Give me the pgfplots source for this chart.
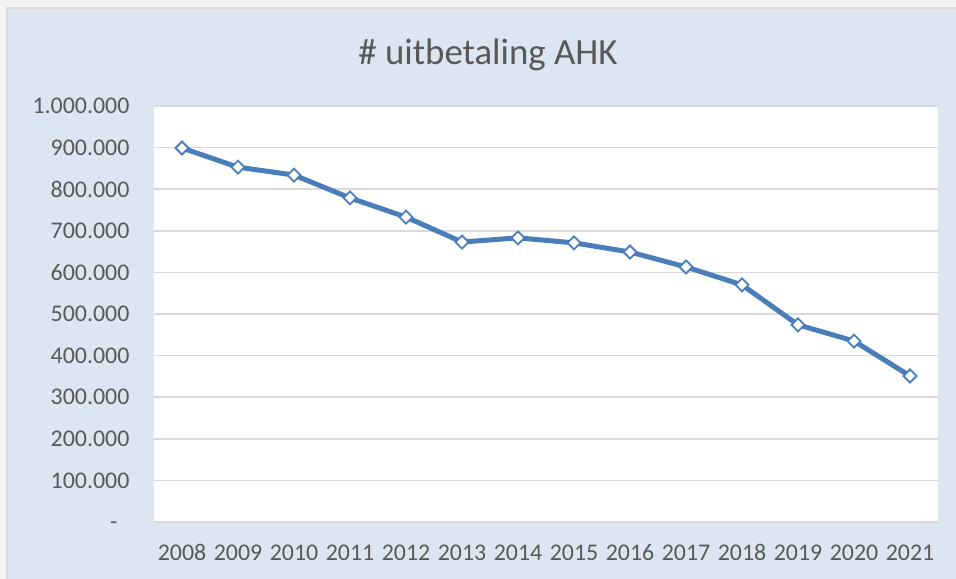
\documentclass[border=0pt]{standalone}
\usepackage{pgfplots}
\pgfplotsset{compat=1.18}
\usepackage{fontspec}
\setmainfont{Carlito}
\definecolor{outerbg}{HTML}{F2F2F2}
\definecolor{frameline}{HTML}{D9D9D9}
\definecolor{chartbg}{HTML}{DCE6F2}
\definecolor{gridc}{HTML}{D9D9D9}
\definecolor{txt}{HTML}{595959}
\definecolor{series}{HTML}{4A7EBB}
\begin{document}
\begin{tikzpicture}
\path[use as bounding box] (0bp,0bp) rectangle (956bp,579bp);
\fill[outerbg] (0bp,0bp) rectangle (956bp,579bp);
\fill[chartbg] (7bp,0bp) rectangle (956bp,571bp);
\draw[frameline,line width=1.5bp] (7bp,0bp) -- (7bp,571bp) -- (956bp,571bp);
\node[txt,font=\fontsize{37}{44}\selectfont] at (488bp,524bp) {\# uitbetaling AHK};
\begin{axis}[
  at={(154bp,57bp)}, anchor=south west,
  scale only axis, width=784bp, height=416bp,
  xmin=-0.5, xmax=13.5, ymin=0, ymax=1000000,
  axis background/.style={fill=white},
  axis line style={draw=none},
  xtick=data,
  xticklabels={2008,2009,2010,2011,2012,2013,2014,2015,2016,2017,2018,2019,2020,2021},
  ytick={0,100000,200000,300000,400000,500000,600000,700000,800000,900000,1000000},
  yticklabels={{-\phantom{0}},100.000,200.000,300.000,400.000,500.000,600.000,700.000,800.000,900.000,1.000.000},
  ymajorgrids, grid style={gridc,line width=1.5bp},
  major tick length=0pt,
  ticklabel style={txt,font=\fontsize{24}{29}\selectfont},
  yticklabel style={anchor=east,xshift=-21bp},
  xticklabel style={anchor=north,yshift=-19bp},
  scaled y ticks=false,
  clip=false,
]
\addplot[series,line width=5bp,mark=square*,mark size=4.6bp,
  mark options={fill=white,draw=series,line width=1.8bp,rotate=45}]
  coordinates {(0,899000)(1,853000)(2,834000)(3,779000)(4,733000)(5,673000)(6,683000)(7,671000)(8,649000)(9,613000)(10,570000)(11,474000)(12,435000)(13,351000)};
\end{axis}
\end{tikzpicture}
\end{document}
